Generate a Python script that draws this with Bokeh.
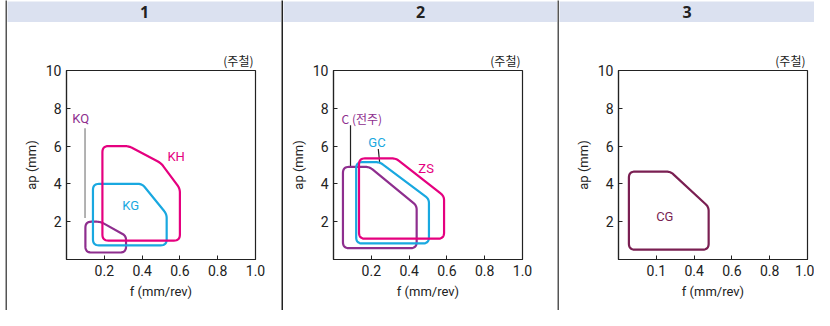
from bokeh.plotting import figure
from bokeh.models import Range1d, FixedTicker
from bokeh.layouts import row, column
from bokeh.core.properties import value
from bokeh.embed import file_html
from bokeh.resources import INLINE

# ---------------- data ----------------
headers = ["1", "2", "3"]
x_ticks = [0.2, 0.4, 0.6, 0.8, 1.0]
y_ticks = [2, 4, 6, 8, 10]
x_tick_labels = ["0.2", "0.4", "0.6", "0.8", "1.0"]
x_tick_labels_p3 = ["0.1", "0.4", "0.6", "0.8", "1.0"]
material = "(주철)"

# panel 1
KH_f = [0.19, 0.60, 0.60, 0.50, 0.33, 0.19]
KH_ap = [1.0, 1.0, 3.75, 5.1, 6.0, 6.0]
KG_f = [0.14, 0.53, 0.53, 0.40, 0.14]
KG_ap = [0.75, 0.75, 2.4, 4.0, 4.0]
KQ_f = [0.10, 0.315, 0.315, 0.18, 0.10]
KQ_ap = [0.37, 0.37, 1.25, 2.0, 2.0]
p1_names = ["KQ", "KH", "KG"]
p1_name_f = [0.075, 0.58, 0.34]
p1_name_ap = [7.45, 5.45, 2.85]
KQ_leader_f = [0.098, 0.098]
KQ_leader_ap = [6.95, 2.2]

# panel 2
C_f = [0.05, 0.44, 0.44, 0.19, 0.05]
C_ap = [0.6, 0.6, 2.85, 4.9, 4.9]
GC_f = [0.12, 0.505, 0.505, 0.245, 0.12]
GC_ap = [0.85, 0.85, 3.2, 5.15, 5.15]
ZS_f = [0.135, 0.585, 0.585, 0.33, 0.135]
ZS_ap = [1.1, 1.1, 3.35, 5.35, 5.35]
p2_names = ["C (전주)", "GC", "ZS"]
p2_name_f = [0.15, 0.23, 0.49]
p2_name_ap = [7.45, 6.2, 4.8]
C_leader_f = [0.09, 0.09]
C_leader_ap = [7.1, 4.9]
GC_leader_f = [0.237, 0.244]
GC_leader_ap = [5.85, 5.15]

# panel 3
CG_f = [0.055, 0.477, 0.477, 0.275, 0.055]
CG_ap = [0.52, 0.52, 2.78, 4.65, 4.65]
p3_names = ["CG"]
p3_name_f = [0.245]
p3_name_ap = [2.3]

# ---------------- style ----------------
PINK = "#e5007f"
CYAN = "#19a8e0"
PURPLE = "#8e2e8e"
MAROON = "#7a1f52"
FONT = "Roboto"
KFONT = "Noto Sans CJK KR"
HEADER_BG = "#dbe1f0"
TOTAL_H = 310
TOPLINE_H = 1
HEADER_H = 21
HLINE_H = 2
BOTTOM_H = 1
CHART_H = TOTAL_H - TOPLINE_H - HEADER_H - HLINE_H - BOTTOM_H
FRAME = 189
TOP = 46
SEP_W = 2
LEFT_PAD = 5


def bare(w, h, bg):
    f = figure(width=w, height=h, x_range=Range1d(0, 1), y_range=Range1d(0, 1),
               output_backend="svg", toolbar_location=None,
               x_axis_location=None, y_axis_location=None,
               min_border=0, min_border_left=0, min_border_right=0,
               min_border_top=0, min_border_bottom=0,
               background_fill_color=bg, border_fill_color=bg)
    f.grid.visible = False
    f.outline_line_color = None
    if "frame_align" in f.properties():
        f.frame_align = False
    return f


def header_fig(w, text):
    h = bare(w, HEADER_H, HEADER_BG)
    h.text(x=[0.5], y=[0.5], text=[text], text_font=value("Open Sans"),
           text_font_style="bold", text_font_size="16px", text_color="#222222",
           text_align="center", text_baseline="middle")
    return h


def rounded(xs, ys, radii, sx, sy, n=8):
    """Round polygon corners (radii in pixels); sx, sy = px per data unit."""
    px = [x * sx for x in xs]
    py = [y * sy for y in ys]
    m = len(px)
    outx, outy = [], []
    for i in range(m):
        x0, y0 = px[i - 1], py[i - 1]
        x1, y1 = px[i], py[i]
        x2, y2 = px[(i + 1) % m], py[(i + 1) % m]
        r = radii[i]
        d1 = ((x1 - x0) ** 2 + (y1 - y0) ** 2) ** 0.5
        d2 = ((x2 - x1) ** 2 + (y2 - y1) ** 2) ** 0.5
        r = min(r, d1 / 2, d2 / 2)
        ax, ay = x1 + (x0 - x1) * r / d1, y1 + (y0 - y1) * r / d1
        bx, by = x1 + (x2 - x1) * r / d2, y1 + (y2 - y1) * r / d2
        for k in range(n + 1):
            t = k / n
            qx = (1 - t) ** 2 * ax + 2 * (1 - t) * t * x1 + t ** 2 * bx
            qy = (1 - t) ** 2 * ay + 2 * (1 - t) * t * y1 + t ** 2 * by
            outx.append(qx / sx)
            outy.append(qy / sy)
    outx.append(outx[0])
    outy.append(outy[0])
    return outx, outy


def chart_fig(W, left, labels):
    right = W - left - FRAME
    bottom = CHART_H - TOP - FRAME
    p = figure(width=W, height=CHART_H, x_range=Range1d(0, 1), y_range=Range1d(0, 10),
               output_backend="svg", toolbar_location=None,
               min_border_left=left, min_border_right=right,
               min_border_top=TOP, min_border_bottom=bottom,
               background_fill_color="white", border_fill_color="white",
               title=material, title_location="above")
    p.title.align = "right"
    p.title.text_font = KFONT
    p.title.text_font_size = "12px"
    p.title.text_font_style = "normal"
    p.title.text_color = "#222222"
    p.title.standoff = 3
    p.title.offset = 2
    p.grid.visible = False
    p.outline_line_color = "#222222"
    p.outline_line_width = 1.2
    for ax in (p.xaxis[0], p.yaxis[0]):
        ax.major_tick_in = 4
        ax.major_tick_out = 0
        ax.minor_tick_line_color = None
        ax.axis_line_color = "#222222"
        ax.axis_line_width = 1.2
        ax.major_tick_line_color = "#222222"
        ax.major_label_text_font = FONT
        ax.major_label_text_font_size = "14px"
        ax.major_label_text_color = "#222222"
        ax.axis_label_text_font = FONT
        ax.axis_label_text_font_size = "13px"
        ax.axis_label_text_font_style = "normal"
        ax.axis_label_text_color = "#222222"
    p.xaxis.ticker = FixedTicker(ticks=x_ticks)
    p.yaxis.ticker = FixedTicker(ticks=y_ticks)
    p.xaxis.axis_label = "f (mm/rev)"
    p.yaxis.axis_label = "ap (mm)"
    p.xaxis.major_label_standoff = 5
    p.xaxis.axis_label_standoff = 5
    p.yaxis.major_label_standoff = 5
    p.yaxis.axis_label_standoff = 4
    p.xaxis.major_label_overrides = {t: s for t, s in zip(x_ticks, labels)}
    return p


SX = FRAME / 1.0
SY = FRAME / 10.0
R5 = [6, 6, 4, 4, 6]
R6 = [6, 6, 4, 4, 4, 6]


def shape(p, xs, ys, radii, color):
    rx, ry = rounded(xs, ys, radii, SX, SY)
    p.patch(rx, ry, fill_color=None, line_color=color, line_width=2.2, line_join="round")


def names(p, xs, ys, texts, colors, font=FONT, size="13px"):
    p.text(x=xs, y=ys, text=texts, text_color=colors, text_font=value(font),
           text_font_size=size, text_align="center", text_baseline="middle")


W1, W2, W3 = 274, 274, 255

# ---- panel 1
p1 = chart_fig(W1, 59, x_tick_labels)
p1.line(KQ_leader_f, KQ_leader_ap, line_color="#8a8a8a", line_width=1.3)
shape(p1, KQ_f, KQ_ap, R5, PURPLE)
shape(p1, KG_f, KG_ap, R5, CYAN)
shape(p1, KH_f, KH_ap, R6, PINK)
names(p1, p1_name_f, p1_name_ap, p1_names, [PURPLE, PINK, CYAN])

# ---- panel 2
p2 = chart_fig(W2, 50, x_tick_labels)
p2.line(C_leader_f, C_leader_ap, line_color="#222222", line_width=1.2)
p2.line(GC_leader_f, GC_leader_ap, line_color="#222222", line_width=1.2)
shape(p2, C_f, C_ap, R5, PURPLE)
shape(p2, GC_f, GC_ap, R5, CYAN)
shape(p2, ZS_f, ZS_ap, R5, PINK)
names(p2, p2_name_f[:1], p2_name_ap[:1], p2_names[:1], [PURPLE], font=KFONT, size="12px")
names(p2, p2_name_f[1:], p2_name_ap[1:], p2_names[1:], [CYAN, PINK])

# ---- panel 3
p3 = chart_fig(W3, 59, x_tick_labels_p3)
shape(p3, CG_f, CG_ap, R5, MAROON)
names(p3, p3_name_f, p3_name_ap, p3_names, [MAROON])

cols = [bare(LEFT_PAD, TOTAL_H, "white")]
sep_colors = ["#555555", "#222222", "#555555"]
for i, (w, ch) in enumerate(zip((W1, W2, W3), (p1, p2, p3))):
    cols.append(bare(SEP_W, TOTAL_H, sep_colors[i]))
    cols.append(column(bare(w, TOPLINE_H, "#777777"),
                       header_fig(w, headers[i]),
                       bare(w, HLINE_H, "#555555"),
                       ch,
                       bare(w, BOTTOM_H, "#a0a0a0")))

layout = row(*cols)
open("out.html", "w").write(file_html(layout, INLINE))
